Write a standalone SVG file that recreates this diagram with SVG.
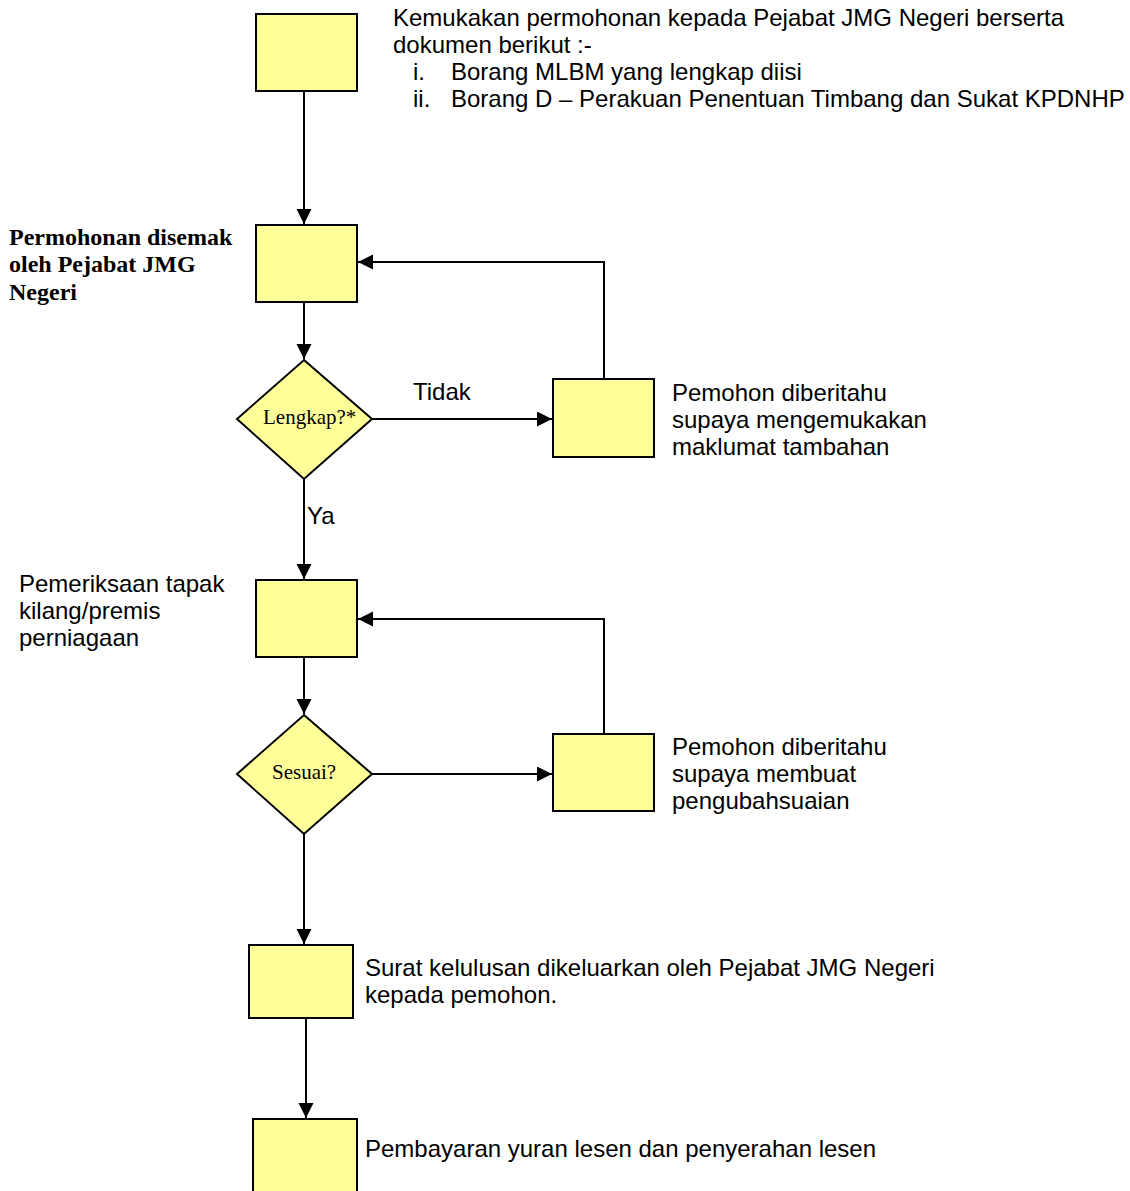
<svg xmlns="http://www.w3.org/2000/svg" width="1130" height="1191" viewBox="0 0 1130 1191">
<defs>
<style>
.box{fill:#FFFF99;stroke:#000;stroke-width:2}
.con{fill:none;stroke:#000;stroke-width:2}
.t{font-family:"Liberation Sans",Arial,sans-serif;font-size:24px;fill:#000}
.tb{font-family:"Liberation Serif","Times New Roman",serif;font-size:24px;font-weight:bold;fill:#000}
.ts{font-family:"Liberation Serif","Times New Roman",serif;font-size:21px;fill:#000}
</style>
<marker id="arr" markerUnits="userSpaceOnUse" markerWidth="16" markerHeight="16" refX="15" refY="7.5" orient="auto">
<path d="M0,0 L15,7.5 L0,15 Z" fill="#000"/>
</marker>
</defs>
<rect width="1130" height="1191" fill="#fff"/>
<g id="connectors">
<path class="con" d="M304,91 V224" marker-end="url(#arr)"/>
<path class="con" d="M304,302 V359" marker-end="url(#arr)"/>
<path class="con" d="M372,419 H552" marker-end="url(#arr)"/>
<path class="con" d="M604,379 V262 H358" marker-end="url(#arr)"/>
<path class="con" d="M304,479 V579" marker-end="url(#arr)"/>
<path class="con" d="M304,657 V714" marker-end="url(#arr)"/>
<path class="con" d="M372,774 H552" marker-end="url(#arr)"/>
<path class="con" d="M604,734 V619 H358" marker-end="url(#arr)"/>
<path class="con" d="M304,834 V944" marker-end="url(#arr)"/>
<path class="con" d="M306,1018 V1118" marker-end="url(#arr)"/>
<text class="t" x="413" y="400">Tidak</text>
<text class="t" x="307" y="524">Ya</text>
</g>
<g id="n1">
<rect class="box" x="256" y="14" width="101" height="77"/>
<text class="t" x="393" y="26">Kemukakan permohonan kepada Pejabat JMG Negeri berserta</text>
<text class="t" x="393" y="53">dokumen berikut :-</text>
<text class="t" x="413" y="80">i.</text>
<text class="t" x="451" y="80">Borang MLBM yang lengkap diisi</text>
<text class="t" x="413" y="107">ii.</text>
<text class="t" x="451" y="107">Borang D – Perakuan Penentuan Timbang dan Sukat KPDNHP</text>
</g>
<g id="n2">
<rect class="box" x="256" y="225" width="101" height="77"/>
<text class="tb" x="9" y="245">Permohonan disemak</text>
<text class="tb" x="9" y="272">oleh Pejabat JMG</text>
<text class="tb" x="9" y="300">Negeri</text>
</g>
<g id="d1">
<polygon class="box" points="304,360 372,419 304,479 237,419"/>
<text class="ts" x="263" y="424">Lengkap?*</text>
</g>
<g id="n3">
<rect class="box" x="553" y="379" width="101" height="78"/>
<text class="t" x="672" y="401">Pemohon diberitahu</text>
<text class="t" x="672" y="428">supaya mengemukakan</text>
<text class="t" x="672" y="455">maklumat tambahan</text>
</g>
<g id="n4">
<rect class="box" x="256" y="580" width="101" height="77"/>
<text class="t" x="19" y="592">Pemeriksaan tapak</text>
<text class="t" x="19" y="619">kilang/premis</text>
<text class="t" x="19" y="646">perniagaan</text>
</g>
<g id="d2">
<polygon class="box" points="304,715 372,774 304,834 237,774"/>
<text class="ts" x="272" y="779">Sesuai?</text>
</g>
<g id="n5">
<rect class="box" x="553" y="734" width="101" height="77"/>
<text class="t" x="672" y="755">Pemohon diberitahu</text>
<text class="t" x="672" y="782">supaya membuat</text>
<text class="t" x="672" y="809">pengubahsuaian</text>
</g>
<g id="n6">
<rect class="box" x="249" y="945" width="104" height="73"/>
<text class="t" x="365" y="976">Surat kelulusan dikeluarkan oleh Pejabat JMG Negeri</text>
<text class="t" x="365" y="1003">kepada pemohon.</text>
</g>
<g id="n7">
<rect class="box" x="253" y="1119" width="104" height="80"/>
<text class="t" x="365" y="1157">Pembayaran yuran lesen dan penyerahan lesen</text>
</g>
</svg>
